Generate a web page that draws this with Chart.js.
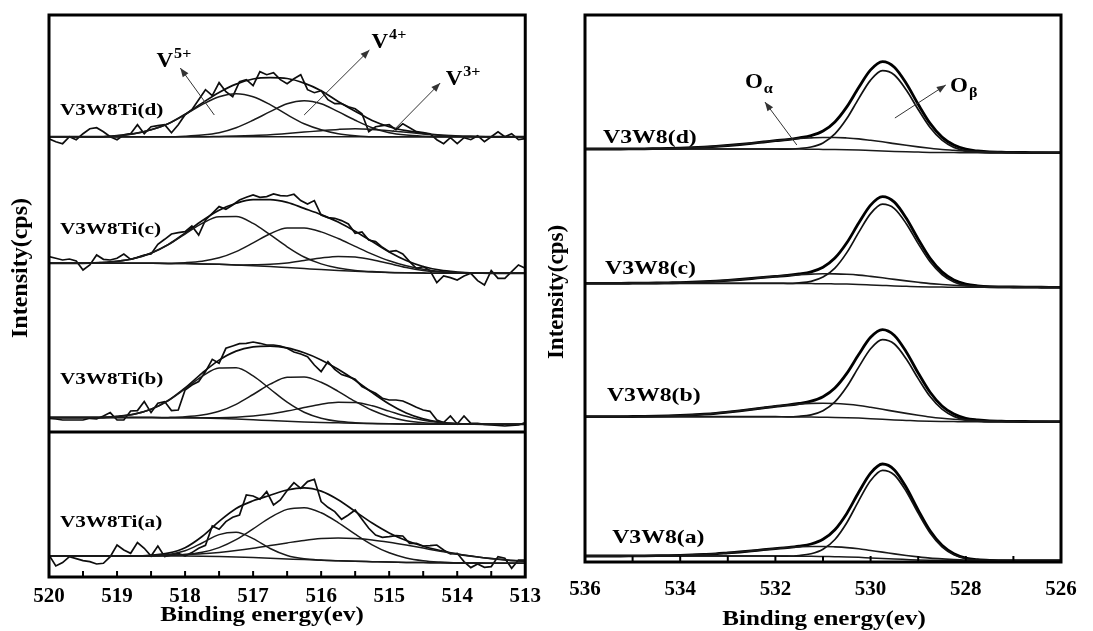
<!DOCTYPE html>
<html>
<head>
<meta charset="utf-8">
<script src="https://cdn.jsdelivr.net/npm/chart.js@4.4.1/dist/chart.umd.min.js"></script>
<style>
  html, body { margin: 0; padding: 0; background: #fff; }
  #wrap { position: relative; width: 1093px; height: 631px; }
  canvas { position: absolute; top: 0; }
  #vChart { left: 0; }
  #oChart { left: 548px; }
</style>
</head>
<body>
<div id="wrap">
  <canvas id="vChart" width="548" height="631"></canvas>
  <canvas id="oChart" width="545" height="631"></canvas>
</div>
<script>
// binding-energy scan points (eV), high to low
const scan = (from, to, step) => {
  const out = [];
  const n = Math.round((from - to) / step);
  for (let i = 0; i <= n; i++) out.push(+(from - i * step).toFixed(2));
  return out;
};

// ---------- V 2p3/2 (left) ----------
const vEnergyRaw = scan(520, 513, 0.1);
const vEnergyFit = scan(520, 513, 0.25);
const vSamples = ['V3W8Ti(a)', 'V3W8Ti(b)', 'V3W8Ti(c)', 'V3W8Ti(d)'];
const vTicks = [520, 519, 518, 517, 516, 515, 514, 513];

// measured counts (a.u.), 0.1 eV steps
const vRawA = [8.3,-2.7,0.7,6.7,4.7,2.7,1.7,-0.7,0,6.7, 18.3,13.3,10,20.7,15,7.3,17.3,6.7,8.3,10,
  7.3,10.7,15,18,37.3,34,41.7,46,48.3,68.3, 67.3,64,71.7,58.3,63.3,72.7,80.7,75,81.7,84,
  61.7,56,51.7,44,48.3,53.3,44,35,28.3,26, 26.7,27.7,27.3,20,20,17.3,17.7,18.3,13.3,9.3,
  10,1.7,-4.3,-0.7,-4,-3.3,6.7,5,-5,3.3,3.3];
const vRawB = [6,5.3,4.3,4.3,4.3,4.3,6,5.3,8.3,11.7, 4.3,4.3,13.3,13.7,22.7,11.7,21,22.7,13.7,14.3,
  34.3,39.3,42.7,52.7,65,61,76,78.3,80.7,81, 82.3,81,79.3,79.3,78.3,76,72.3,70.3,67.7,59.3,
  52.7,62.7,55,49.7,47.7,45,37.7,34.3,31,26, 24.3,24.3,23.3,20.3,17,14.3,13,4.3,1.7,8.3,
  0.3,8.3,1,1,0,-0.7,-1,-1.7,-1,-0.7,1.7];
const vRawC = [16.7,15,13.3,14.3,12.3,3.3,8.3,18.3,14,13.3, 15,19.3,14,16,18.3,19.3,29,34,39.3,40.7,
  41.7,47.3,38.3,53.3,60,66.7,64,68.3,73.3,76, 78.3,76,76.7,79.3,77.7,77.3,79,72.7,69.3,72.7,
  58.3,55.7,55,52.7,49.3,40,41.3,33.3,31.7,26, 21.7,22.7,19.3,11.7,5,6.7,2.7,-9.3,-2.7,-4.3,
  -6.7,-2.7,0,-7.3,-11.7,2.7,-5,-5,1.7,8.3,5];
const vRawD = [-2,-5,-7,0,-3,3,8,9,5,0, -3,2,3,12,3,10,11,12,4,12,
  22,27,37,47,41,54,45,40,55,57, 51,65,62,64,57,53,58,62,47,44,
  46,37,33,33,30,28,23,5,10,11, 12,7,13,9,5,4,3,-3,-7,-1,
  -7,-1,-3,1,-5,0,5,0,3,-3,-2];

// fitted background and components (a.u.), 0.25 eV steps
const vBgA = [7.3,7.3,7.3,7.3,7.3,7.3,7.3,7.3,7.2,7,6.7,6.3,5.8,5.1,4.4,3.7,3.1,2.5,2,1.6,1.2,0.9,0.7,0.5,0.35,0.2,0.1,0,0];
const v5A = [0,0,0,0,0,0,0.3,1.5,5.4,13.3,22,24.8,18.9,9.7,3.4,0.8,0.1,0,0,0,0,0,0,0,0,0,0,0,0];
const v4A = [0,0,0,0,0,0,0,0.5,1.5,4,9,17.3,28.6,40.6,49.5,51.8,47.4,38.2,27.1,16.9,9.3,4.5,1.9,0.7,0,0,0,0,0];
const v3A = [0,0,0,0,0,0,0.4,0.8,1.5,2.5,4.2,6.4,9.2,12.6,16,19.2,21.6,22.9,22.8,21.8,19.9,17.4,14.5,11.6,8.9,6.6,4.6,3.1,2];

const vBgB = [6.7,6.7,6.7,6.7,6.7,6.7,6.7,6.6,6.5,6.2,5.8,5.2,4.5,3.7,3,2.4,1.9,1.5,1.1,0.8,0.5,0.3,0.1,0,0,0,0,0,0];
const v5B = [0,0,0,0,1.2,3.4,8.3,16.9,28.9,41.7,50.4,51.3,43.9,31.6,19.1,9.7,4.2,1.5,0.5,0,0,0,0,0,0,0,0,0,0];
const v4B = [0,0,0,0,0,0,0,0.3,1,3,7.2,14.8,25.3,36.4,44.1,45,40.1,31.5,21.8,13.2,7.1,3.3,1.4,0.5,0,0,0,0,0];
const v3B = [0,0,0,0,0,0,0,0,0,0.3,0.8,1.9,3.7,6.5,10.2,14.4,18.2,20.6,20.7,17.7,12.7,7.7,3.9,1.7,0.6,0.2,0,0,0];

const vBgC = [10,10,10,10,10,10,10,9.9,9.7,9.4,9,8.4,7.6,6.7,5.7,4.7,3.7,2.8,2,1.4,0.9,0.5,0.2,0,0,0,0,0,0];
const v5C = [0,0,0,0.7,2,4.8,10.2,18.7,29.6,40.5,47.6,48.3,42.3,31.9,20.8,11.6,5.7,2.4,0.8,0.3,0,0,0,0,0,0,0,0,0];
const v4C = [0,0,0,0,0,0,0,0,0.9,2.7,6.5,13.3,22.8,32.8,39.7,40.5,37.7,32,24.9,17.8,11.6,7,3.9,1.9,0.9,0.3,0,0,0];
const v3C = [0,0,0,0,0,0,0,0,0,0,0,0,1,2.3,4.7,8.1,11.6,14.1,14.3,12.2,8.8,5.3,2.7,1.2,0.4,0,0,0,0];

const vBgD = [0,0,0,0,0,0,0,0,0,0,0,0,0,0,0,0,0,0,0,0,0,0,0,0,0,0,0,0,0];
const v5D = [0,0,0,0,1,3,7,13,22,32,40,43,40,32,22,13,7,3,1,0,0,0,0,0,0,0,0,0,0];
const v4D = [0,0,0,0,0,0,0,0,0.5,1.6,4,9,16.5,25,33,36,33,25,16.5,9,4,1.6,0.5,0,0,0,0,0,0];
const v3D = [0,0,0,0,0,0,0,0,0,0,0.3,0.6,1.2,2,3.2,4.6,6,7.3,8,7.3,6,4.4,2.8,1.5,0.7,0.3,0,0,0];

// ---------- O 1s (right) ----------
const oEnergyFit = scan(536, 526, 0.25);
const oSamples = ['V3W8(a)', 'V3W8(b)', 'V3W8(c)', 'V3W8(d)'];
const oTicks = [536, 534, 532, 530, 528, 526];

const oBgA = [4.7,4.7,4.7,4.7,4.7,4.7,4.7,4.7,4.7,4.7,4.7,4.7,4.7,4.7,4.7,4.7,4.7,4.6,4.5,4.4,4.2,4,3.8,3.4,2.8,2.3,1.7,1.2,0.7,0.4,0.2,0.1,0,0,0,0,0,0,0,0,0];
const oAlphaA = [0,0,0,0,0.1,0.2,0.3,0.4,0.7,1.1,1.6,2.2,3.1,4,5.1,6.3,7.4,8.5,9.3,9.8,10,9.8,9.3,8.5,7.4,6.3,5.1,4,3.1,2.2,1.6,1.1,0.7,0.4,0.3,0.1,0,0,0,0,0];
const oBetaA = [0,0,0,0,0,0,0,0,0,0,0,0,0,0,0,0,0,0,0.7,2.5,7.2,17.2,34.2,56.5,77.4,88.1,84,68,46.8,27.3,13.6,5.8,2,0.6,0,0,0,0,0,0,0];

const oBgB = [5,5,5,5,5,5,5,5,5,5,5,5,5,5,5,5,5,4.9,4.8,4.7,4.5,4.3,4,3.6,3,2.4,1.8,1.3,0.8,0.4,0.2,0.1,0,0,0,0,0,0,0,0,0];
const oAlphaB = [0,0,0,0,0.2,0.3,0.5,0.8,1.2,1.8,2.5,3.4,4.6,5.9,7.3,8.8,10.3,11.6,12.8,13.6,14,13.9,13.4,12.6,11.4,10,8.5,7,5.6,4.3,3.2,2.3,1.6,1.1,0.7,0.5,0.3,0.2,0.1,0,0];
const oBetaB = [0,0,0,0,0,0,0,0,0,0,0,0,0,0,0,0,0,0,0.6,2.2,6.5,15.5,30.9,51,70,79.7,75.9,61.4,42.3,24.7,12.3,5.2,1.8,0.6,0,0,0,0,0,0,0];

const oBgC = [4,4,4,4,4,4,4,4,4,4,4,4,4,4,4,4,4,3.9,3.8,3.7,3.6,3.4,3.2,2.9,2.4,1.9,1.4,1,0.6,0.3,0.2,0.1,0,0,0,0,0,0,0,0,0];
const oAlphaC = [0,0,0,0,0.1,0.2,0.3,0.5,0.7,1.1,1.6,2.2,2.9,3.8,4.8,5.9,6.9,7.9,8.8,9.5,9.9,10,9.8,9.3,8.5,7.6,6.5,5.4,4.4,3.4,2.6,1.9,1.4,0.9,0.6,0.4,0.3,0.2,0.1,0,0];
const oBetaC = [0,0,0,0,0,0,0,0,0,0,0,0,0,0,0,0,0,0,0.7,2.3,6.6,15.8,31.5,52,71.3,81.2,77.3,62.6,43.1,25.2,12.6,5.3,1.9,0.6,0,0,0,0,0,0,0];

const oBgD = [3.7,3.7,3.7,3.7,3.7,3.7,3.7,3.7,3.7,3.7,3.7,3.7,3.7,3.7,3.7,3.7,3.7,3.6,3.6,3.4,3.3,3.2,3,2.7,2.2,1.8,1.3,0.9,0.6,0.3,0.1,0.1,0,0,0,0,0,0,0,0,0];
const oAlphaD = [0,0,0,0,0.1,0.2,0.4,0.6,0.9,1.3,1.9,2.6,3.5,4.5,5.7,7,8.3,9.5,10.6,11.4,11.9,12,11.7,11.1,10.2,9.1,7.8,6.5,5.2,4.1,3.1,2.3,1.6,1.1,0.7,0.5,0.3,0.2,0.1,0,0];
const oBetaD = [0,0,0,0,0,0,0,0,0,0,0,0,0,0,0,0,0,0,0.6,2.3,6.5,15.6,31.1,51.4,70.4,80.2,76.4,61.8,42.6,24.9,12.4,5.2,1.9,0.6,0,0,0,0,0,0,0];

// vertical shift of each stacked spectrum, order (a) -> (d)
const vStackOffset = [13.7, 152.7, 303.7, 440.3];
const oStackOffset = [1.3, 140.3, 274.7, 409.3];

const SERIF = '"Liberation Serif", "Times New Roman", serif';
Chart.defaults.font.family = SERIF;

const toPoints = (xs, ys, off) => xs.map((x, i) => ({ x, y: off + ys[i] }));
const sumOf = arrs => arrs[0].map((_, i) => arrs.reduce((s, a) => s + a[i], 0));
const line = (data, width, color, smooth) => ({
  data,
  borderColor: color,
  borderWidth: width,
  pointRadius: 0,
  fill: false,
  tension: 0,
  cubicInterpolationMode: smooth ? 'monotone' : 'default'
});

const vDatasets = [];
[
  [vRawA, vBgA, [v5A, v4A, v3A]],
  [vRawB, vBgB, [v5B, v4B, v3B]],
  [vRawC, vBgC, [v5C, v4C, v3C]],
  [vRawD, vBgD, [v5D, v4D, v3D]]
].forEach(([raw, bg, comps], k) => {
  const off = vStackOffset[k];
  vDatasets.push(line(toPoints(vEnergyFit, bg, off), 1.5, '#1a1a1a', true));
  comps.forEach(c => vDatasets.push(line(toPoints(vEnergyFit, sumOf([bg, c]), off), 1.5, '#1a1a1a', true)));
  vDatasets.push(line(toPoints(vEnergyRaw, raw, off), 1.7, '#0d0d0d', false));
  vDatasets.push(line(toPoints(vEnergyFit, sumOf([bg, ...comps]), off), 1.7, '#0d0d0d', true));
});

const oDatasets = [];
[
  [oBgA, oAlphaA, oBetaA],
  [oBgB, oAlphaB, oBetaB],
  [oBgC, oAlphaC, oBetaC],
  [oBgD, oAlphaD, oBetaD]
].forEach(([bg, alpha, beta], k) => {
  const off = oStackOffset[k];
  oDatasets.push(line(toPoints(oEnergyFit, bg, off), 1.5, '#1a1a1a', true));
  oDatasets.push(line(toPoints(oEnergyFit, sumOf([bg, alpha]), off), 1.6, '#1a1a1a', true));
  oDatasets.push(line(toPoints(oEnergyFit, sumOf([bg, beta]), off), 1.7, '#111', true));
  oDatasets.push(line(toPoints(oEnergyFit, sumOf([bg, alpha, beta]), off), 2.8, '#000', true));
});

// text helper; the bold serif lettering is a bit wide, hence the x stretch
const text = (ctx, str, x, y, size, o = {}) => {
  ctx.save();
  ctx.translate(x, y);
  if (o.rotate) ctx.rotate(o.rotate);
  const sx = o.stretch === undefined ? 1.25 : o.stretch;
  ctx.scale(sx, 1);
  ctx.font = `bold ${size}px ${SERIF}`;
  ctx.textAlign = o.align || 'left';
  ctx.textBaseline = o.baseline || 'middle';
  ctx.fillText(str, 0, 0);
  const w = ctx.measureText(str).width * sx;
  ctx.restore();
  return w;
};

const arrow = (ctx, x0, y0, x1, y1) => {
  const ang = Math.atan2(y1 - y0, x1 - x0);
  ctx.save();
  ctx.strokeStyle = '#333';
  ctx.fillStyle = '#333';
  ctx.lineWidth = 1;
  ctx.beginPath();
  ctx.moveTo(x0, y0);
  ctx.lineTo(x1, y1);
  ctx.stroke();
  ctx.beginPath();
  ctx.moveTo(x1, y1);
  ctx.lineTo(x1 - 9 * Math.cos(ang) + 3.5 * Math.sin(ang), y1 - 9 * Math.sin(ang) - 3.5 * Math.cos(ang));
  ctx.lineTo(x1 - 9 * Math.cos(ang) - 3.5 * Math.sin(ang), y1 - 9 * Math.sin(ang) + 3.5 * Math.cos(ang));
  ctx.closePath();
  ctx.fill();
  ctx.restore();
};

const decor = {
  id: 'decor',
  afterDraw(chart, args, o) {
    const { ctx, chartArea: a, scales: { x, y } } = chart;
    ctx.save();
    ctx.strokeStyle = '#000';
    ctx.fillStyle = '#000';
    ctx.lineWidth = 3;
    ctx.strokeRect(a.left, a.top, a.right - a.left, a.bottom - a.top);
    (o.dividers || []).forEach(v => {
      const py = y.getPixelForValue(v);
      ctx.beginPath();
      ctx.moveTo(a.left, py);
      ctx.lineTo(a.right, py);
      ctx.stroke();
    });
    // inward tick marks on the energy axis
    ctx.lineWidth = 2;
    o.innerTicks.forEach(v => {
      const px = x.getPixelForValue(v);
      ctx.beginPath();
      ctx.moveTo(px, a.bottom);
      ctx.lineTo(px, a.bottom - 6);
      ctx.stroke();
    });
    o.labels.forEach(l => text(ctx, l.text, x.getPixelForValue(l.x), y.getPixelForValue(l.y), l.size));
    o.marks.forEach(m => {
      arrow(ctx, x.getPixelForValue(m.tail[0]), y.getPixelForValue(m.tail[1]),
        x.getPixelForValue(m.head[0]), y.getPixelForValue(m.head[1]));
      const px = x.getPixelForValue(m.at[0]);
      const py = y.getPixelForValue(m.at[1]);
      const w = text(ctx, m.base, px, py, 20, { baseline: 'alphabetic', stretch: 1.15 });
      text(ctx, m.index, px + w + 1, py + m.shift, 14, { baseline: 'alphabetic', stretch: 1.15 });
    });
    text(ctx, 'Binding energy(ev)', o.xTitle[0], o.xTitle[1], 20, { align: 'center', baseline: 'alphabetic' });
    text(ctx, 'Intensity(cps)', o.yTitle[0], o.yTitle[1], o.yTitle[2],
      { align: 'center', baseline: 'alphabetic', rotate: -Math.PI / 2, stretch: 1 });
    ctx.restore();
  }
};

const energyAxis = (min, max, ticks, height, pad) => ({
  type: 'linear',
  reverse: true,
  min, max,
  afterBuildTicks: s => { s.ticks = ticks.map(value => ({ value })); },
  afterFit: s => { s.height = height; },
  grid: { display: false, drawTicks: false },
  border: { display: false },
  ticks: { color: '#000', padding: pad, autoSkip: false, maxRotation: 0, font: { size: 21, weight: 'bold' } }
});

new Chart(document.getElementById('vChart'), {
  type: 'line',
  data: { datasets: vDatasets },
  options: {
    responsive: false,
    animation: false,
    layout: { padding: { left: 49, top: 15, right: 21, bottom: 0 } },
    plugins: {
      legend: { display: false },
      tooltip: { enabled: false },
      decor: {
        dividers: [145],
        innerTicks: [519.5, 519, 518.5, 518, 517.5, 517, 516.5, 516, 515.5, 515, 514.5, 514, 513.5],
        labels: vSamples.map((s, k) => ({ text: s, x: 519.84, y: [54, 197, 347, 466][k], size: 17 })),
        marks: [
          { base: 'V', index: '5+', shift: -9, at: [518.42, 510], tail: [517.57, 462], head: [518.07, 509] },
          { base: 'V', index: '4+', shift: -9, at: [515.26, 529], tail: [516.25, 462], head: [515.29, 527] },
          { base: 'V', index: '3+', shift: -9, at: [514.17, 492], tail: [514.96, 445], head: [514.25, 494] }
        ],
        xTitle: [262, 621],
        yTitle: [27, 268, 24]
      }
    },
    scales: {
      x: energyAxis(513, 520, vTicks, 54, 7),
      y: { display: false, min: 0, max: 562 }
    }
  },
  plugins: [decor]
});

new Chart(document.getElementById('oChart'), {
  type: 'line',
  data: { datasets: oDatasets },
  options: {
    responsive: false,
    animation: false,
    layout: { padding: { left: 37, top: 15, right: 32, bottom: 0 } },
    plugins: {
      legend: { display: false },
      tooltip: { enabled: false },
      decor: {
        innerTicks: [535, 534, 533, 532, 531, 530, 529, 528, 527],
        labels: oSamples.map((s, k) => ({ text: s, x: [535.43, 535.54, 535.58, 535.62][k], y: [24, 166, 293, 424][k], size: 19 })),
        marks: [
          { base: 'O', index: 'α', shift: 5, at: [532.64, 474], tail: [531.55, 417], head: [532.22, 460] },
          { base: 'O', index: 'β', shift: 5, at: [528.33, 470], tail: [529.49, 444], head: [528.42, 477] }
        ],
        xTitle: [276, 625],
        yTitle: [15, 292, 23]
      }
    },
    scales: {
      x: energyAxis(526, 536, oTicks, 69, 15),
      y: { display: false, min: 0, max: 547 }
    }
  },
  plugins: [decor]
});
</script>
</body>
</html>
